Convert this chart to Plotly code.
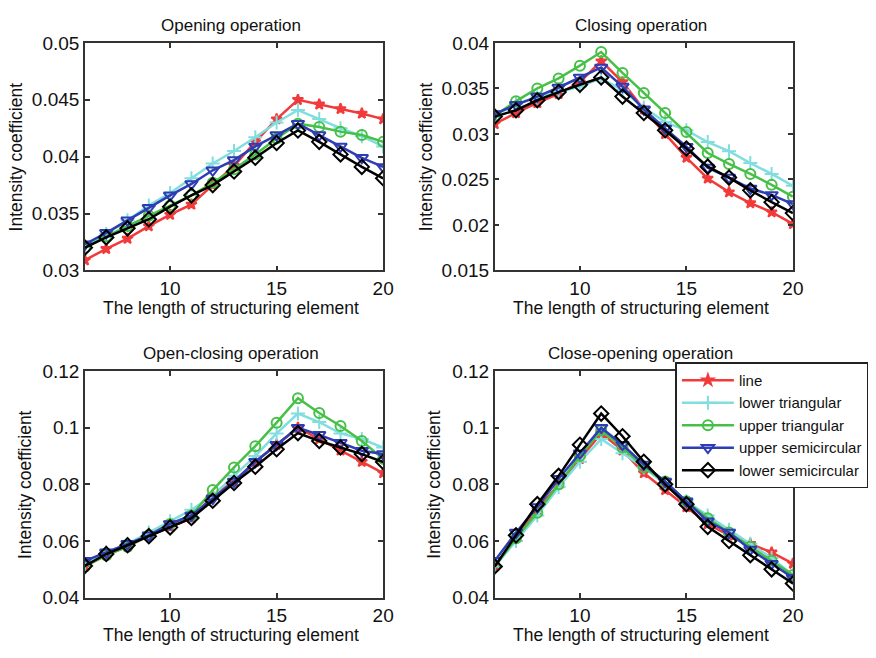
import plotly.graph_objects as go

# Structuring element length (x axis for every panel)
lengths = list(range(6, 21))

series_names = ["line", "lower triangular", "upper triangular",
                "upper semicircular", "lower semicircular"]

# Opening operation
open_line = [0.0309, 0.0319, 0.0328, 0.0339, 0.0349, 0.0358, 0.0375, 0.0392, 0.0413, 0.0433, 0.0450, 0.0446, 0.0442, 0.0438, 0.0433]
open_lower_tri = [0.0321, 0.0332, 0.0344, 0.0357, 0.0368, 0.0381, 0.0394, 0.0405, 0.0417, 0.0430, 0.0441, 0.0433, 0.0425, 0.0418, 0.0409]
open_upper_tri = [0.0320, 0.0330, 0.0339, 0.0348, 0.0357, 0.0366, 0.0377, 0.0389, 0.0402, 0.0416, 0.0429, 0.0426, 0.0422, 0.0419, 0.0413]
open_upper_semi = [0.0323, 0.0333, 0.0344, 0.0355, 0.0366, 0.0376, 0.0388, 0.0397, 0.0409, 0.0419, 0.0429, 0.0419, 0.0409, 0.0399, 0.0391]
open_lower_semi = [0.0320, 0.0329, 0.0337, 0.0345, 0.0356, 0.0366, 0.0375, 0.0387, 0.0399, 0.0412, 0.0423, 0.0413, 0.0402, 0.0391, 0.0381]

# Closing operation
close_line = [0.0311, 0.0323, 0.0334, 0.0344, 0.0357, 0.0380, 0.0357, 0.0327, 0.0300, 0.0274, 0.0251, 0.0236, 0.0224, 0.0214, 0.0201]
close_lower_tri = [0.0320, 0.0333, 0.0340, 0.0346, 0.0352, 0.0361, 0.0348, 0.0329, 0.0313, 0.0304, 0.0291, 0.0281, 0.0268, 0.0256, 0.0243]
close_upper_tri = [0.0320, 0.0336, 0.0350, 0.0361, 0.0375, 0.0390, 0.0367, 0.0345, 0.0323, 0.0302, 0.0279, 0.0267, 0.0256, 0.0244, 0.0231]
close_upper_semi = [0.0322, 0.0332, 0.0341, 0.0351, 0.0362, 0.0373, 0.0352, 0.0327, 0.0306, 0.0286, 0.0263, 0.0252, 0.0240, 0.0233, 0.0223]
close_lower_semi = [0.0319, 0.0326, 0.0337, 0.0346, 0.0354, 0.0362, 0.0341, 0.0323, 0.0304, 0.0284, 0.0264, 0.0252, 0.0238, 0.0225, 0.0213]

# Open-closing operation
oc_line = [0.0510, 0.0550, 0.0580, 0.0620, 0.0650, 0.0680, 0.0760, 0.0810, 0.0880, 0.0940, 0.1000, 0.0960, 0.0920, 0.0880, 0.0840]
oc_lower_tri = [0.0520, 0.0560, 0.0590, 0.0630, 0.0670, 0.0710, 0.0760, 0.0830, 0.0900, 0.0980, 0.1050, 0.1020, 0.0980, 0.0960, 0.0930]
oc_upper_tri = [0.0510, 0.0550, 0.0580, 0.0620, 0.0660, 0.0690, 0.0780, 0.0860, 0.0935, 0.1018, 0.1104, 0.1052, 0.1006, 0.0953, 0.0890]
oc_upper_semi = [0.0530, 0.0560, 0.0590, 0.0620, 0.0660, 0.0690, 0.0750, 0.0810, 0.0880, 0.0940, 0.1000, 0.0975, 0.0947, 0.0919, 0.0907]
oc_lower_semi = [0.0512, 0.0554, 0.0585, 0.0617, 0.0648, 0.0681, 0.0742, 0.0805, 0.0862, 0.0924, 0.0981, 0.0953, 0.0930, 0.0907, 0.0879]

# Close-opening operation
co_line = [0.051, 0.061, 0.071, 0.080, 0.089, 0.098, 0.092, 0.084, 0.078, 0.072, 0.066, 0.062, 0.059, 0.056, 0.052]
co_lower_tri = [0.051, 0.060, 0.069, 0.079, 0.088, 0.096, 0.091, 0.086, 0.080, 0.074, 0.069, 0.064, 0.059, 0.054, 0.048]
co_upper_tri = [0.051, 0.061, 0.070, 0.080, 0.090, 0.099, 0.093, 0.086, 0.081, 0.074, 0.068, 0.063, 0.058, 0.053, 0.048]
co_upper_semi = [0.053, 0.063, 0.072, 0.082, 0.091, 0.100, 0.094, 0.087, 0.081, 0.074, 0.067, 0.063, 0.057, 0.052, 0.047]
co_lower_semi = [0.051, 0.062, 0.073, 0.083, 0.094, 0.105, 0.097, 0.088, 0.080, 0.073, 0.065, 0.060, 0.055, 0.050, 0.045]

panel_titles = ["Opening operation", "Closing operation",
                "Open-closing operation", "Close-opening operation"]
panel_data = [
    [open_line, open_lower_tri, open_upper_tri, open_upper_semi, open_lower_semi],
    [close_line, close_lower_tri, close_upper_tri, close_upper_semi, close_lower_semi],
    [oc_line, oc_lower_tri, oc_upper_tri, oc_upper_semi, oc_lower_semi],
    [co_line, co_lower_tri, co_upper_tri, co_upper_semi, co_lower_semi],
]
y_ranges = [(0.03, 0.05), (0.015, 0.04), (0.04, 0.12), (0.04, 0.12)]
y_dticks = [0.005, 0.005, 0.02, 0.02]

colors = ["#f23a3a", "#82dede", "#46c046", "#2f3db4", "#000000"]
symbols = ["star", "cross-thin-open", "circle-open", "triangle-down-open", "diamond-open"]
msizes = [8, 10, 10, 11, 11]

W, H = 876, 658
# panel boxes in pixels: (left, right, top, bottom)
boxes = [(86, 388, 34, 269), (501, 803, 34, 269),
         (86, 388, 373, 607), (501, 803, 373, 607)]

FONT = "Liberation Sans, Arial, Helvetica, sans-serif"
INK = "#111111"

fig = go.Figure()
layout = dict(
    width=W, height=H, margin=dict(l=0, r=0, t=0, b=0),
    paper_bgcolor="white", plot_bgcolor="white",
    font=dict(family=FONT, color=INK, size=17),
    showlegend=True,
    legend=dict(x=684 / W, y=1 - 364 / H, xanchor="left", yanchor="top",
                bgcolor="white", bordercolor="#222222", borderwidth=1.5,
                font=dict(size=15, family=FONT, color=INK),
                tracegroupgap=0, itemwidth=52),
)
annotations = []

for p in range(4):
    l, r, t, b = boxes[p]
    ax = "" if p == 0 else str(p + 1)
    axis_common = dict(showline=True, linecolor="#333333", linewidth=1.5, mirror="ticks",
                       ticks="inside", ticklen=5, tickwidth=1.5, tickcolor="#333333",
                       showgrid=False, zeroline=False,
                       tickfont=dict(size=19, family=FONT, color=INK))
    layout["xaxis" + ax] = dict(domain=[l / W, r / W], range=[6, 20],
                                tickvals=[10, 15, 20], anchor="y" + ax, **axis_common)
    y0, y1 = y_ranges[p]
    layout["yaxis" + ax] = dict(domain=[1 - b / H, 1 - t / H], range=[y0, y1],
                                tick0=y0, dtick=y_dticks[p], anchor="x" + ax,
                                **axis_common)
    for s in range(5):
        fig.add_trace(go.Scatter(
            x=lengths, y=panel_data[p][s], mode="lines+markers",
            name=series_names[s], legendgroup=series_names[s],
            showlegend=(p == 3),
            line=dict(color=colors[s], width=2.5),
            marker=dict(symbol=symbols[s], size=msizes[s], color=colors[s],
                        line=dict(color=colors[s], width=2)),
            xaxis="x" + ax, yaxis="y" + ax,
        ))
    cx = (l + r) / 2 / W
    annotations.append(dict(text=panel_titles[p], x=cx - 3 / W, y=1 - (t - 18) / H,
                            xref="paper", yref="paper", showarrow=False,
                            xanchor="center", yanchor="middle",
                            font=dict(size=17, family=FONT, color=INK)))
    annotations.append(dict(text="The length of structuring element", x=cx - 3 / W,
                            y=1 - (b + 39) / H, xref="paper", yref="paper",
                            showarrow=False, xanchor="center", yanchor="middle",
                            font=dict(size=17.5, family=FONT, color=INK)))

y_title_x = [16, 431, 26, 440]
for p in range(4):
    l, r, t, b = boxes[p]
    annotations.append(dict(text="Intensity coefficient", x=y_title_x[p] / W,
                            y=1 - (t + b) / 2 / H, xref="paper", yref="paper",
                            showarrow=False, textangle=-90,
                            xanchor="center", yanchor="middle",
                            font=dict(size=17.5, family=FONT, color=INK)))

layout["annotations"] = annotations
fig.update_layout(**layout)
fig.write_html("out.html")
